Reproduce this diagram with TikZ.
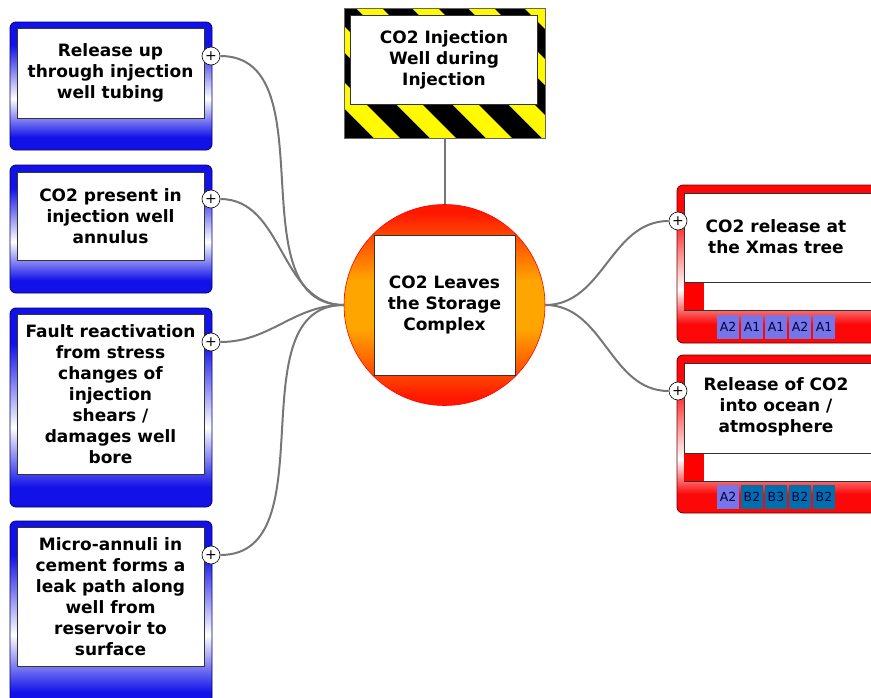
\documentclass[tikz,border=0pt]{standalone}
\usepackage{fontspec}
\setmainfont{DejaVu Sans}
\usetikzlibrary{positioning}
\definecolor{boxblue}{RGB}{18,18,232}
\definecolor{boxred}{RGB}{252,8,8}
\definecolor{tagA}{RGB}{118,118,232}
\definecolor{tagB}{RGB}{0,112,172}
\definecolor{linkgrey}{RGB}{118,118,118}
\definecolor{hazyellow}{RGB}{255,250,0}
\definecolor{hubred}{RGB}{255,24,0}
\definecolor{huborange}{RGB}{255,165,0}
\pgfdeclareverticalshading{bluefade}{100bp}{color(0bp)=(boxblue); color(30bp)=(boxblue); color(45bp)=(white); color(66bp)=(boxblue); color(100bp)=(boxblue)}
\pgfdeclareverticalshading{redfade}{100bp}{color(0bp)=(boxred); color(31bp)=(boxred); color(42bp)=(white); color(66bp)=(boxred); color(100bp)=(boxred)}
\pgfdeclareverticalshading{hubfade}{100bp}{color(0bp)=(hubred); color(27bp)=(hubred); color(44bp)=(huborange); color(56bp)=(huborange); color(73bp)=(hubred); color(100bp)=(hubred)}

\begin{document}
\begin{tikzpicture}[x=1pt, y=-1pt,
  outerbox/.style={rounded corners=6pt, line width=0.8pt, inner sep=0pt},
  bluebox/.style={outerbox, shading=bluefade, draw=black!60!blue, minimum width=202pt},
  redbox/.style={outerbox, shading=redfade, draw=black!60!red, minimum width=208pt},
  txtbox/.style={draw=black!80, fill=white, line width=0.8pt, align=center, inner sep=0pt,
    font=\fontsize{17}{21}\selectfont\bfseries},
  plain/.style={align=center, inner sep=0pt, font=\fontsize{17}{21}\selectfont\bfseries},
  plus/.style={circle, draw, fill=white, line width=0.6pt, minimum size=18pt, inner sep=0pt,
    font=\fontsize{14}{14}\selectfont},
  tag/.style={minimum width=22pt, minimum height=24pt, inner sep=0pt,
    font=\fontsize{12.5}{12.5}\selectfont, text=black!75!blue},
  link/.style={draw=linkgrey, line width=2pt}]
\clip (0,0) rectangle (871,697);

% left causes
\node[bluebox, minimum height=128pt] (cause1) at (111,86) {};
\node[txtbox, minimum width=187pt, minimum height=90pt] (cause1txt) at (110.5,73)
  {Release up\\through injection\\well tubing};
\node[bluebox, minimum height=128pt] (cause2) at (111,229) {};
\node[txtbox, minimum width=187pt, minimum height=88pt] (cause2txt) at (110.5,216)
  {CO2 present in\\injection well\\annulus};
\node[bluebox, minimum height=199pt] (cause3) at (111,407.5) {};
\node[txtbox, minimum width=187pt, minimum height=160pt] (cause3txt) at (110.5,394)
  {Fault reactivation\\from stress\\changes of\\injection\\shears /\\damages well\\bore};
\node[bluebox, minimum height=190pt] (cause4) at (111,616) {};
\node[txtbox, minimum width=187pt, minimum height=139pt] (cause4txt) at (110.5,596.5)
  {Micro-annuli in\\cement forms a\\leak path along\\well from\\reservoir to\\surface};
\node[plus] (plus1) at (211,56) {+};
\node[plus] (plus2) at (211,199) {+};
\node[plus] (plus3) at (211,342) {+};
\node[plus] (plus4) at (211,555) {+};

% hazard (top event context)
\begin{scope}
  \clip (344,8) rectangle (545,138);
  \fill[black] (344,8) rectangle (545,138);
  \foreach \i in {-1,...,5}
    \fill[hazyellow] (300+\i*56,8) -- ++(26,0) -- ++(130,130) -- ++(-26,0) -- cycle;
\end{scope}
\node[draw=black!60, line width=0.6pt, minimum width=201pt, minimum height=130pt, inner sep=0pt] (hazard) at (444.5,73) {};
\node[txtbox, minimum width=187pt, minimum height=89pt] (hazardtxt) at (444,59.5)
  {CO2 Injection\\Well during\\Injection};

% top event
\node[circle, draw=red, line width=0.6pt, minimum size=201pt, inner sep=0pt,
  shading=hubfade] (hub) at (444.5,305) {};
\node[txtbox, minimum width=141pt, minimum height=140pt] (hubtxt) at (444.5,305)
  {CO2 Leaves\\the Storage\\Complex};

% right consequences
\node[redbox, minimum height=158pt] (cons1) at (781,264) {};
\node[draw=black!80, fill=white, line width=0.8pt, minimum width=194pt, minimum height=89pt, inner sep=0pt] (cons1txt) at (781,237.5) {};
\node[plain] (cons1lbl) at (776,237) {CO2 release at\\the Xmas tree};
\node[draw=black!80, fill=white, line width=0.8pt, minimum width=194pt, minimum height=28pt, inner sep=0pt] (cons1bar) at (781,296) {};
\node[fill=red, minimum width=20pt, minimum height=27pt, inner sep=0pt, anchor=west] (cons1mark) at (cons1bar.west) {};
\foreach \t [count=\k] in {A2,A1,A1,A2,A1}
  \node[tag, fill=tagA] (tagA\k) at (704+24*\k,327) {\t};

\node[redbox, minimum height=158pt] (cons2) at (781,434) {};
\node[draw=black!80, fill=white, line width=0.8pt, minimum width=194pt, minimum height=90pt, inner sep=0pt] (cons2txt) at (781,408) {};
\node[plain] (cons2lbl) at (776,407) {Release of CO2\\into ocean /\\atmosphere};
\node[draw=black!80, fill=white, line width=0.8pt, minimum width=194pt, minimum height=28pt, inner sep=0pt] (cons2bar) at (781,467) {};
\node[fill=red, minimum width=20pt, minimum height=27pt, inner sep=0pt, anchor=west] (cons2mark) at (cons2bar.west) {};
\foreach \t/\c [count=\k] in {A2/tagA,B2/tagB,B3/tagB,B2/tagB,B2/tagB}
  \node[tag, fill=\c] (tagB\k) at (704+24*\k,497) {\t};
\node[plus] (plus5) at (678,221) {+};
\node[plus] (plus6) at (678,391) {+};

% connectors
\draw[link] (hazard.south) -- (hub.north);
\foreach \p in {plus1,plus2,plus3,plus4}
  \draw[link] (\p.east) to[out=0, in=180] (hub.west);
\foreach \p in {plus5,plus6}
  \draw[link] (hub.east) to[out=0, in=180] (\p.west);
\end{tikzpicture}
\end{document}
